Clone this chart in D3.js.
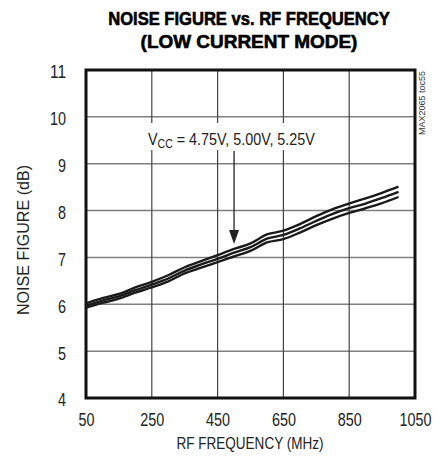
<!DOCTYPE html>
<html><head><meta charset="utf-8">
<script src="https://cdn.jsdelivr.net/npm/d3@7"></script>
<style>body{margin:0;background:#fff}svg{display:block}</style>
</head><body><svg id="c" width="443" height="457"></svg>
<script>
const freq = [50,100,150,200,250,300,350,400,450,500,550,600,650,700,750,800,850,900,950,1000];
const nfTop = [6.02,6.13,6.22,6.36,6.48,6.62,6.79,6.92,7.05,7.18,7.30,7.49,7.57,7.71,7.88,8.03,8.15,8.26,8.38,8.51];
const nfMid = [5.97,6.08,6.17,6.30,6.42,6.55,6.72,6.85,6.97,7.10,7.22,7.40,7.48,7.62,7.78,7.93,8.05,8.15,8.27,8.40];
const nfBot = [5.93,6.03,6.12,6.25,6.36,6.49,6.66,6.78,6.90,7.02,7.14,7.32,7.39,7.53,7.69,7.83,7.95,8.05,8.16,8.29];
const xTicks = [50,250,450,650,850,1050];
const yTicks = [4,5,6,7,8,9,10,11];
const titleLines = ["NOISE FIGURE vs. RF FREQUENCY","(LOW CURRENT MODE)"];

const svg = d3.select("#c");
const L=86,R=415,T=70,B=398;
const x = d3.scaleLinear().domain([50,1050]).range([L,R]);
const y = d3.scaleLinear().domain([4,11]).range([B,T]);
const sans = "'Liberation Sans',Arial,Helvetica,sans-serif";

// fit a text element horizontally to a target width by scaling about its anchor point
function fit(sel, w, ax, ay){
  const cw = sel.node().getComputedTextLength();
  const s = w / cw;
  sel.attr("transform", `translate(${ax},${ay}) scale(${s},1) translate(${-ax},${-ay})`);
}

// title
const t1 = svg.append("text").attr("x",249).attr("y",25).attr("text-anchor","middle")
  .attr("font-family",sans).attr("font-weight","bold").attr("font-size",18.5)
  .attr("stroke","#000").attr("stroke-width",0.6).text(titleLines[0]);
fit(t1,282,249,25);
const t2 = svg.append("text").attr("x",249).attr("y",48).attr("text-anchor","middle")
  .attr("font-family",sans).attr("font-weight","bold").attr("font-size",18.5)
  .attr("stroke","#000").attr("stroke-width",0.6).text(titleLines[1]);
fit(t2,217,249,48);

// grid
svg.append("g").selectAll("line").data(yTicks.slice(1,-1)).join("line")
  .attr("x1",L).attr("x2",R).attr("y1",d=>y(d)).attr("y2",d=>y(d))
  .attr("stroke","#808080").attr("stroke-width",1.5);
svg.append("g").selectAll("line").data(xTicks.slice(1,-1)).join("line")
  .attr("y1",T).attr("y2",B).attr("x1",d=>x(d)).attr("x2",d=>x(d))
  .attr("stroke","#444").attr("stroke-width",1.2);

// annotation background
svg.append("rect").attr("x",146).attr("y",123).attr("width",172).attr("height",27).attr("fill","#fff");

// frame
svg.append("rect").attr("x",L).attr("y",T).attr("width",R-L).attr("height",B-T)
  .attr("fill","none").attr("stroke","#111").attr("stroke-width",3);

// axes
const xa = svg.append("g").attr("transform",`translate(0,${B})`)
  .call(d3.axisBottom(x).tickValues(xTicks).tickSize(0).tickPadding(15).tickFormat(d3.format("d")));
const ya = svg.append("g").attr("transform",`translate(${L},0)`)
  .call(d3.axisLeft(y).tickValues(yTicks).tickSize(0).tickPadding(20).tickFormat(d3.format("d")));
[xa,ya].forEach(a=>{a.select(".domain").remove();
  a.selectAll("text").attr("font-family",sans).attr("font-size",19).attr("fill","#222")
   .attr("textLength",d=>String(d).length*8).attr("lengthAdjust","spacingAndGlyphs");});
ya.selectAll("text").attr("dy","0.42em");

const xt = svg.append("text").attr("x",250).attr("y",449).attr("text-anchor","middle")
  .attr("font-family",sans).attr("font-size",17).attr("fill","#222").text("RF FREQUENCY (MHz)");
fit(xt,147,250,449);
svg.append("text").attr("transform","translate(29,240) rotate(-90)").attr("text-anchor","middle")
  .attr("font-family",sans).attr("font-size",17).attr("fill","#222")
  .attr("textLength",150).attr("lengthAdjust","spacingAndGlyphs").text("NOISE FIGURE (dB)");

// watermark
svg.append("text").attr("transform","translate(425,71) rotate(-90)").attr("text-anchor","end")
  .attr("font-family",sans).attr("font-size",9).attr("fill","#333")
  .attr("textLength",64).attr("lengthAdjust","spacingAndGlyphs").text("MAX2065 toc55");

// curves
const line = d3.line().x((d,i)=>x(freq[i])).y(d=>y(d)).curve(d3.curveMonotoneX);
svg.append("g").selectAll("path").data([nfTop,nfMid,nfBot]).join("path")
  .attr("d",line).attr("fill","none").attr("stroke","#1a1a1a").attr("stroke-width",2.4);

// annotation
const ann = svg.append("text").attr("x",148).attr("y",145)
  .attr("font-family",sans).attr("font-size",17).attr("fill","#222");
ann.append("tspan").text("V");
ann.append("tspan").attr("font-size",12.5).attr("dy",3).text("CC");
ann.append("tspan").attr("dy",-3).text(" = 4.75V, 5.00V, 5.25V");
fit(ann,167,148,145);
const ax = x(500);
svg.append("line").attr("x1",ax).attr("x2",ax).attr("y1",151).attr("y2",232)
  .attr("stroke","#222").attr("stroke-width",1.3);
svg.append("path").attr("d",`M${ax-5},${230}L${ax+5},${230}L${ax},${244}Z`).attr("fill","#222");
</script></body></html>
